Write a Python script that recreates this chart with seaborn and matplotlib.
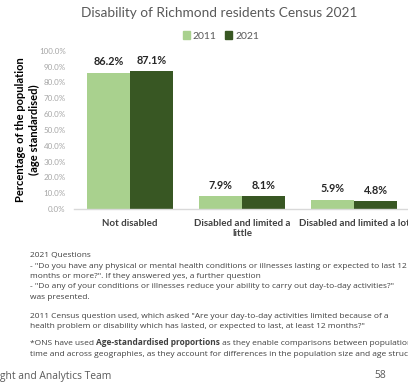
import pandas as pd
import seaborn as sns
import matplotlib.pyplot as plt

# data
categories = ["Not disabled", "Disabled and limited a\nlittle", "Disabled and limited a lot"]
years = ["2011", "2021"]
values_2011 = [86.2, 7.9, 5.9]
values_2021 = [87.1, 8.1, 4.8]
yticks = [0, 10, 20, 30, 40, 50, 60, 70, 80, 90, 100]

palette = {"2011": "#a9d18e", "2021": "#385723"}

notes = [
    ("2021 Questions", 255),
    ('- "Do you have any physical or mental health conditions or illnesses lasting or expected to last 12', 265.5),
    ('months or more?". If they answered yes, a further question', 276),
    ('- "Do any of your conditions or illnesses reduce your ability to carry out day-to-day activities?"', 286.5),
    ("was presented.", 297),
    ('2011 Census question used, which asked "Are your day-to-day activities limited because of a', 316),
    ('health problem or disability which has lasted, or expected to last, at least 12 months?"', 326.5),
    ("time and across geographies, as they account for differences in the population size and age structure.", 353.5),
]
ons_parts = [("*ONS have used ", "normal"), ("Age-standardised proportions", "bold"),
             (" as they enable comparisons between populations over", "normal")]

df = pd.DataFrame({
    "Category": categories * 2,
    "Year": [years[0]] * 3 + [years[1]] * 3,
    "Value": values_2011 + values_2021,
})

sns.set_theme(style="white")
plt.rcParams["font.family"] = ["Lato", "DejaVu Sans"]

W, H = 408, 385
NOTE_SIZE = 6.0
fig = plt.figure(figsize=(W / 100, H / 100), dpi=100)

# axes placed in pixel terms of the slide crop (runs a little past the right edge)
ax = fig.add_axes([74 / W, (H - 209) / H, 336 / W, 158.3 / H])
sns.barplot(data=df, x="Category", y="Value", hue="Year", palette=palette,
            width=0.77, gap=0, saturation=1, edgecolor="none", ax=ax)

ax.set_ylim(0, 100)
ax.set_xlim(-0.5, 2.5)
ax.set_yticks(yticks)
ax.set_yticklabels(["%.1f%%" % t for t in yticks], fontsize=5.8, color="#a6a6a6")
ax.tick_params(axis="y", length=0, pad=6)
ax.tick_params(axis="x", length=0, pad=7)
for lbl in ax.get_xticklabels():
    lbl.set_fontsize(7.0)
    lbl.set_fontweight("bold")
    lbl.set_color("#404040")
    lbl.set_linespacing(1.25)
ax.set_xlabel("")
ax.set_ylabel("Percentage of the population\n(age standardised)", fontsize=8,
              fontweight="bold", color="#000000", linespacing=1.25)
ax.yaxis.set_label_coords(-0.102, 0.5)
for side in ["top", "right", "left"]:
    ax.spines[side].set_visible(False)
ax.spines["bottom"].set_color("#d9d9d9")
ax.spines["bottom"].set_linewidth(1.0)

for cont in ax.containers:
    ax.bar_label(cont, labels=["%.1f%%" % v for v in cont.datavalues],
                 padding=4, fontsize=7.8, fontweight="bold", color="#262626")

ax.legend_.remove()
handles = [plt.Rectangle((0, 0), 1, 1, color=palette[y]) for y in years]
fig.legend(handles, years, loc="center", bbox_to_anchor=(221 / W, 1 - 36 / H),
           ncol=2, frameon=False, fontsize=7.5, handlelength=0.7, handleheight=0.7,
           handletextpad=0.3, columnspacing=0.8, labelcolor="#595959")

fig.text(219 / W, 1 - 13 / H, "Disability of Richmond residents Census 2021",
         ha="center", va="center", fontsize=9.8, color="#595959")

for txt, y in notes:
    fig.text(30 / W, 1 - (y + 2) / H, txt, ha="left", va="baseline", fontsize=NOTE_SIZE,
             color="#404040", family="Open Sans")

# the ONS line has a bold run in the middle
renderer = fig.canvas.get_renderer()
x_px = 30
for part, weight in ons_parts:
    t = fig.text(x_px / W, 1 - 345 / H, part, ha="left", va="baseline", fontsize=NOTE_SIZE,
                 color="#404040", family="Open Sans", fontweight=weight)
    x_px += t.get_window_extent(renderer).width

fig.text(0, 1 - 377 / H, "ght and Analytics Team", ha="left", va="center",
         fontsize=7.4, color="#595959", family="Open Sans")
fig.text(380 / W, 1 - 376 / H, "58", ha="center", va="center",
         fontsize=7.4, color="#595959", family="Open Sans")

fig.savefig("out.png", dpi=100)
